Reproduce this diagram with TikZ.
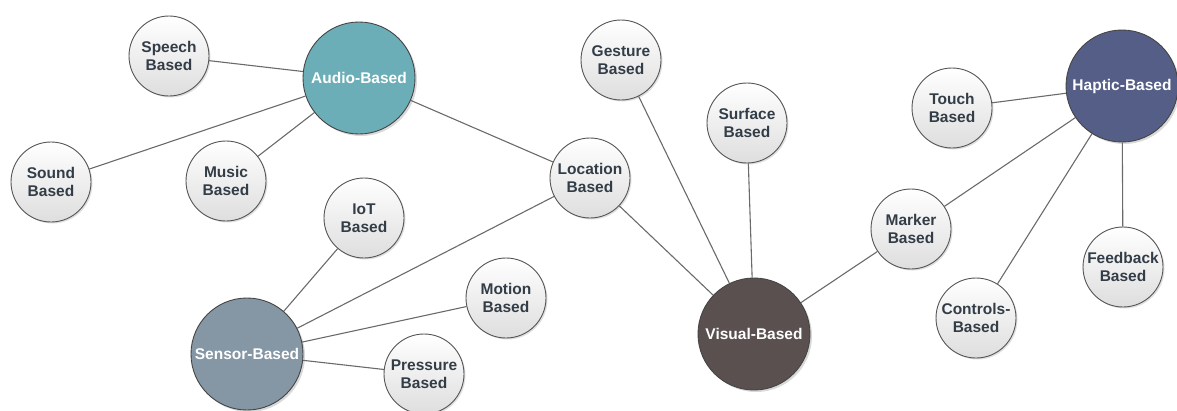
\documentclass[tikz,border=0pt]{standalone}
\usepackage{fontspec}
\setmainfont{Liberation Sans}
\usetikzlibrary{shadows,backgrounds}
\definecolor{edge}{HTML}{6A6A6A}
\definecolor{rim}{HTML}{555555}
\definecolor{smalltext}{HTML}{333D47}
\definecolor{audio}{HTML}{6CAEB8}
\definecolor{sensor}{HTML}{8597A5}
\definecolor{visual}{HTML}{5A5050}
\definecolor{haptic}{HTML}{555E86}
\tikzset{
  leaf/.style={circle, draw=rim, line width=0.9pt, minimum size=80pt, inner sep=0pt,
    top color=white, bottom color=black!13, align=center,
    font=\fontsize{15.5}{18}\selectfont\bfseries, text=smalltext,
    drop shadow={shadow xshift=1.5pt, shadow yshift=-1.5pt, opacity=0.25}},
  hub/.style={circle, draw=rim!80!black, line width=0.9pt, minimum size=112pt, inner sep=0pt,
    align=center, font=\fontsize{15.5}{18}\selectfont\bfseries, text=white,
    drop shadow={shadow xshift=2pt, shadow yshift=-2pt, opacity=0.3}},
  link/.style={draw=edge, line width=1.1pt}
}
\begin{document}
\begin{tikzpicture}[x=1pt,y=-1pt]
\useasboundingbox (0,0) rectangle (1177,410);
% hubs
\node[hub, fill=audio]  (audio)  at (359,78)  {Audio-Based};
\node[hub, fill=sensor] (sensor) at (247,354) {Sensor-Based};
\node[hub, fill=visual] (visual) at (754,334) {Visual-Based};
\node[hub, fill=haptic] (haptic) at (1122,86) {Haptic-Based};
% leaves
\node[leaf] (speech)   at (169,56)  {Speech\\Based};
\node[leaf] (sound)    at (51,182)  {Sound\\Based};
\node[leaf] (music)    at (226,181) {Music\\Based};
\node[leaf] (location) at (590,178) {Location\\Based};
\node[leaf] (gesture)  at (621,60)  {Gesture\\Based};
\node[leaf] (surface)  at (747,123) {Surface\\Based};
\node[leaf] (iot)      at (364,218) {IoT\\Based};
\node[leaf] (motion)   at (506,298) {Motion\\Based};
\node[leaf] (pressure) at (424,374) {Pressure\\Based};
\node[leaf] (touch)    at (952,108) {Touch\\Based};
\node[leaf] (marker)   at (911,229) {Marker\\Based};
\node[leaf] (feedback) at (1123,267) {Feedback\\Based};
\node[leaf] (controls) at (976,318) {Controls-\\Based};
% connectors, kept behind the circles
\begin{pgfonlayer}{background}
\draw[link] (speech) -- (audio);
\draw[link] (sound) -- (audio);
\draw[link] (music) -- (audio);
\draw[link] (audio) -- (location);
\draw[link] (location) -- (visual);
\draw[link] (location) -- (sensor);
\draw[link] (iot) -- (sensor);
\draw[link] (motion) -- (sensor);
\draw[link] (pressure) -- (sensor);
\draw[link] (gesture) -- (visual);
\draw[link] (surface) -- (visual);
\draw[link] (visual) -- (marker);
\draw[link] (marker) -- (haptic);
\draw[link] (touch) -- (haptic);
\draw[link] (controls) -- (haptic);
\draw[link] (feedback) -- (haptic);
\end{pgfonlayer}
\end{tikzpicture}
\end{document}
